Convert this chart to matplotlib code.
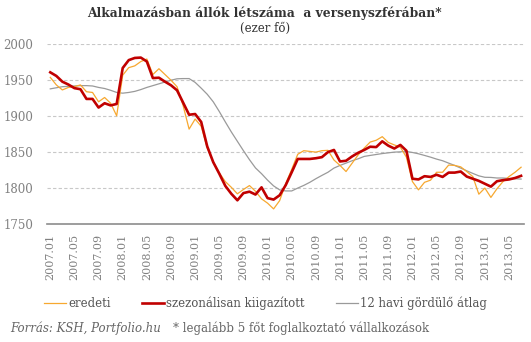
import numpy as np
import matplotlib
matplotlib.use('Agg')
import matplotlib.pyplot as plt

# havi adatok 2007.01 - 2013.07 (ezer fő)
months = [f'{y}.{m:02d}' for y in range(2007, 2014) for m in range(1, 13)][:79]

eredeti = [1954, 1943.5, 1936.5, 1940, 1941, 1943.5, 1934, 1933, 1920, 1926,
           1918, 1900.5, 1957, 1967.5, 1970, 1976, 1979.5, 1958, 1966, 1958,
           1950, 1941, 1915, 1882, 1896, 1886, 1856, 1836, 1821, 1809,
           1801, 1792, 1798, 1803.5, 1795.5, 1785, 1779, 1771, 1782.5, 1806,
           1826, 1847, 1852, 1851, 1850, 1852, 1852.5, 1839, 1831.5, 1823,
           1834.5, 1846, 1855.5, 1864, 1866.5, 1871.5, 1863.5, 1860, 1857, 1843,
           1809, 1797.5, 1808, 1811, 1822, 1822, 1832, 1831.5, 1829.5, 1823,
           1816, 1791.5, 1800, 1787, 1799, 1809, 1816, 1822, 1829]

kiigazitott = [1961, 1956, 1948, 1944, 1939, 1937.5, 1924, 1924, 1912, 1918,
               1915, 1917, 1967, 1978, 1981, 1981.5, 1976, 1953, 1953.5, 1948,
               1943, 1936, 1919, 1902, 1903, 1892, 1858, 1836, 1820, 1803,
               1792, 1783, 1793, 1795, 1791, 1801, 1786, 1784, 1790, 1804,
               1822, 1840.5, 1840.5, 1840.5, 1841.5, 1843, 1850, 1853, 1837, 1838,
               1844, 1849, 1853, 1857.5, 1857, 1865, 1859, 1855, 1860, 1852,
               1813, 1812, 1816.5, 1815.5, 1818.5, 1815.5, 1821.5, 1821.5, 1823, 1816,
               1813, 1810, 1806, 1802, 1809.5, 1811, 1812, 1814, 1817]

gordulo = [1938, 1939.5, 1941, 1941.5, 1942, 1942.5, 1942.5, 1942, 1940, 1938.5,
           1936, 1933, 1932, 1933, 1934.5, 1937, 1940, 1942.5, 1945, 1947.5,
           1950, 1952, 1952.3, 1952.3, 1947, 1939, 1930.5, 1920, 1906.5, 1892,
           1878, 1865, 1852, 1839.5, 1828, 1820, 1811, 1803, 1797.5, 1796,
           1796, 1800, 1803.7, 1808, 1813, 1817.6, 1822, 1827.8, 1831.5, 1834.7,
           1838, 1840.7, 1844, 1845.4, 1846.7, 1848, 1849, 1850, 1850.4, 1851,
           1849.5, 1847.7, 1845.4, 1843, 1840.3, 1838, 1834.7, 1831.5, 1827.8, 1824,
           1820.4, 1817, 1815, 1814.8, 1814, 1814, 1813.4, 1813, 1812.5]

plt.rcParams['font.family'] = 'DejaVu Serif'

fig = plt.figure(figsize=(5.31, 3.42), dpi=100)
ax = fig.add_axes([0.089, 0.345, 0.898, 0.5255])

x = np.arange(len(months))
ax.plot(x, gordulo, color='#9a9a9a', lw=0.9, label='12 havi gördülő átlag', zorder=2)
ax.plot(x, eredeti, color='#f7a830', lw=0.9, label='eredeti', zorder=3)
ax.plot(x, kiigazitott, color='#c00000', lw=1.9, label='szezonálisan kiigazított', zorder=4)

ax.set_xlim(-0.5, len(months) - 0.5)
ax.set_ylim(1750, 2000)
ax.set_yticks([1750, 1800, 1850, 1900, 1950, 2000])
for v in [1800, 1850, 1900, 1950, 2000]:
    ax.axhline(v, color='#c8c8c8', lw=0.8, ls=(0, (3, 2)), zorder=1)

ax.set_xticks(x[::4])
ax.set_xticklabels(months[::4], rotation=90)
ax.tick_params(axis='x', length=0, pad=7, labelsize=8, labelcolor='#808080')
ax.tick_params(axis='y', length=0, pad=10, labelsize=8.5, labelcolor='#808080')

for s in ['top', 'left', 'right']:
    ax.spines[s].set_visible(False)
ax.spines['bottom'].set_color('#8c8c8c')
ax.spines['bottom'].set_linewidth(1.2)

fig.text(0.498, 0.962, 'Alkalmazásban állók létszáma  a versenyszférában*',
         ha='center', va='center', fontsize=8.8, fontweight='bold', color='#333333')
fig.text(0.5, 0.918, '(ezer fő)', ha='center', va='center', fontsize=8.5, color='#333333')

h, l = ax.get_legend_handles_labels()
order = [1, 2, 0]
fig.legend([h[i] for i in order], [l[i] for i in order], loc='center',
           bbox_to_anchor=(0.5, 0.113), ncol=3, frameon=False, fontsize=8.5,
           handlelength=1.9, handletextpad=0.2, columnspacing=2.6,
           labelcolor='#555555')

fig.text(0.019, 0.04, 'Forrás: KSH, Portfolio.hu', fontsize=8.5, style='italic',
         color='#666666', va='center')
fig.text(0.325, 0.04, '* legalább 5 főt foglalkoztató vállalkozások', fontsize=8.5,
         color='#666666', va='center')

fig.savefig('out.png', dpi=100)
